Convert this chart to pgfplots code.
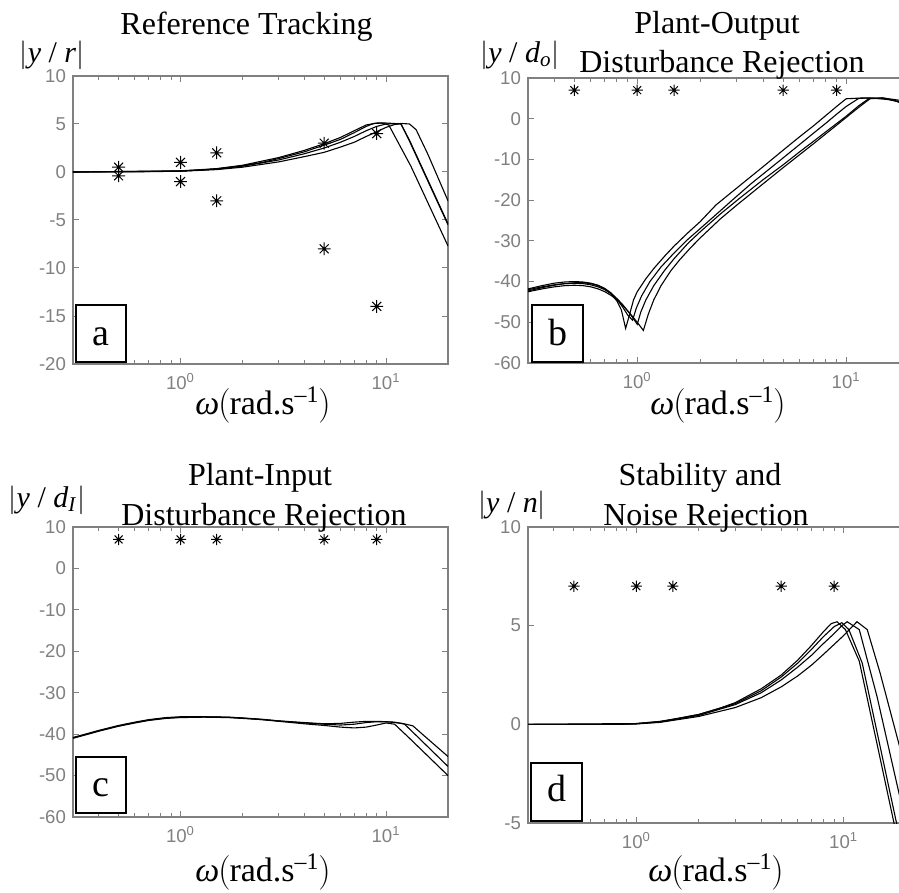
\documentclass[border=0pt]{standalone}
\usepackage{pgfplots}
\pgfplotsset{compat=1.18}
\usepackage{fontspec}
\setmainfont{Liberation Serif}
\newfontfamily\tickfont{Liberation Sans}
\definecolor{axgray}{RGB}{128,128,128}

\pgfdeclareplotmark{mstar}{%
 \pgfpathmoveto{\pgfqpoint{0pt}{\pgfplotmarksize}}\pgfpathlineto{\pgfqpoint{0pt}{-\pgfplotmarksize}}%
 \pgfpathmoveto{\pgfqpoint{\pgfplotmarksize}{0pt}}\pgfpathlineto{\pgfqpoint{-\pgfplotmarksize}{0pt}}%
 \pgfpathmoveto{\pgfqpoint{0.7\pgfplotmarksize}{0.7\pgfplotmarksize}}\pgfpathlineto{\pgfqpoint{-0.7\pgfplotmarksize}{-0.7\pgfplotmarksize}}%
 \pgfpathmoveto{\pgfqpoint{0.7\pgfplotmarksize}{-0.7\pgfplotmarksize}}\pgfpathlineto{\pgfqpoint{-0.7\pgfplotmarksize}{0.7\pgfplotmarksize}}%
 \pgfusepathqstroke}

\tikzset{
 mycurve/.style={black, line width=0.55pt, mark=none},
 mystars/.style={mark=mstar, mark size=2.8pt, black, line width=0.5pt},
}
\newcommand{\xlab}{\textit{ω}\kern-0.5pt$\Bigl($\kern-0.5pt rad.s\textsuperscript{–1}\kern-0.5pt$\Bigr)$}
\newcommand{\ylab}[1]{$\left|\mbox{#1}\right|$}

\begin{document}
\begin{tikzpicture}
% ---------------- panel a ----------------
\begin{semilogxaxis}[scale only axis, xmin=0.3, xmax=20,
  axis line style={axgray, line width=0.6pt},
  tick style={axgray, line width=0.5pt},
  tick align=inside, major tick length=3pt, minor tick length=2pt,
  xtick={1,10}, xticklabels={10\textsuperscript{0},10\textsuperscript{1}},
  minor xtick={0.4,0.5,0.6,0.7,0.8,0.9,2,3,4,5,6,7,8,9,20},
  ticklabel style={font=\tickfont\fontsize{9.3}{11}\selectfont, text=axgray},
  xticklabel style={yshift=-1pt},
  /pgf/number format/assume math mode=true,
  at={(36.5pt,-182pt)}, anchor=south west,
  width=187.5pt, height=144pt, ymin=-20, ymax=10, ytick={-20,-15,...,10}]
\addplot[mycurve] coordinates {(0.3,0)(0.6,0.02)(0.8,0.05)(1,0.1)(1.3,0.22)(1.6,0.4)(2,0.65)(2.5,1.0)(3,1.4)(4,2.1)(5,2.8)(6,3.4)(7,4.1)(8,4.75)(8.7,5.05)(9.5,5.1)(10.3,4.9)(13.2,0.6)(20,-7.7)};
\addplot[mycurve] coordinates {(0.3,0)(1,0.1)(1.5,0.3)(2,0.6)(3,1.25)(4,1.9)(5,2.5)(6,3.1)(7,3.7)(8,4.3)(9,4.75)(10,5.0)(11.8,5.05)(13,3.2)(20,-5.5)};
\addplot[mycurve] coordinates {(0.3,0)(1,0.08)(1.5,0.25)(2,0.5)(3,1.05)(4,1.6)(5,2.05)(6,2.6)(7,3.1)(8,3.7)(9,4.2)(10,4.65)(11,4.95)(12,5.05)(13,5.0)(14,4.4)(16,1.8)(20,-3.0)};
\addplot[mycurve] coordinates {(0.3,0)(1,0.12)(1.5,0.35)(2,0.7)(3,1.5)(4,2.25)(5,2.95)(6,3.6)(7,4.3)(8,4.9)(9,5.1)(10,5.1)(11,5.05)(11.8,5.0)(13,3.3)(20,-5.4)};
\addplot[only marks, mystars, mark size=3.2pt] coordinates {(0.5,0.5)(0.5,-0.4)(1,1)(1,-1)(1.5,2)(1.5,-3)(5,3)(5,-8)(9,4)(9,-14)};
\end{semilogxaxis}
% ---------------- panel b ----------------
\begin{semilogxaxis}[scale only axis, xmin=0.3, xmax=20,
  axis line style={axgray, line width=0.6pt},
  tick style={axgray, line width=0.5pt},
  tick align=inside, major tick length=3pt, minor tick length=2pt,
  xtick={1,10}, xticklabels={10\textsuperscript{0},10\textsuperscript{1}},
  minor xtick={0.4,0.5,0.6,0.7,0.8,0.9,2,3,4,5,6,7,8,9,20},
  ticklabel style={font=\tickfont\fontsize{9.3}{11}\selectfont, text=axgray},
  xticklabel style={yshift=-1pt},
  /pgf/number format/assume math mode=true,
  at={(264pt,-181.5pt)}, anchor=south west,
  width=190.5pt, height=142.5pt, ymin=-60, ymax=10, ytick={-60,-50,...,10}]
\addplot[mycurve] coordinates {(0.3,-42.3)(0.35,-41.5)(0.4,-40.9)(0.45,-40.5)(0.5,-40.3)(0.55,-40.3)(0.6,-40.5)(0.65,-41.0)(0.7,-41.8)(0.75,-43)(0.8,-44.8)(0.84,-47)(0.88,-51.5)(0.92,-48)(0.96,-44.5)(1.0,-42.5)(1.1,-39.3)(1.2,-36.8)(1.35,-33.8)(1.5,-31.3)(1.75,-28)(2,-25.3)(2.38,-21.2)(3,-17)(4,-11.8)(5,-7.7)(6,-4.4)(7,-1.7)(8,0.8)(9,3.0)(10,4.9)(12,5.1)(15,5.0)(18,4.2)(20,3.8)};
\addplot[mycurve] coordinates {(0.3,-41.8)(0.35,-41.0)(0.4,-40.4)(0.45,-40.1)(0.5,-40.0)(0.55,-40.1)(0.6,-40.4)(0.65,-40.9)(0.7,-41.7)(0.75,-42.8)(0.8,-44.3)(0.85,-46.2)(0.9,-48.2)(0.95,-49.5)(0.99,-46.5)(1.05,-43.5)(1.15,-40)(1.3,-36.4)(1.5,-33)(1.75,-29.6)(2,-27)(2.5,-22.6)(2.85,-20.0)(3.5,-16)(4,-13.6)(5,-9.6)(6,-6.3)(7,-3.5)(8,-1.1)(9,1.1)(10,3.0)(11.5,5.0)(13,5.1)(16,4.7)(20,3.6)};
\addplot[mycurve] coordinates {(0.3,-42.0)(0.35,-41.3)(0.4,-40.8)(0.45,-40.5)(0.5,-40.4)(0.55,-40.5)(0.6,-40.8)(0.65,-41.3)(0.7,-42.0)(0.75,-43.0)(0.8,-44.2)(0.85,-45.6)(0.9,-47.2)(0.95,-48.8)(1.0,-50.5)(1.04,-47.5)(1.1,-44.5)(1.2,-41)(1.35,-37.3)(1.5,-34.4)(1.75,-30.6)(2,-27.8)(2.5,-23.4)(3.08,-19.6)(4,-15)(5,-11.3)(6,-8.1)(7,-5.5)(8,-3.2)(9,-1.2)(10,0.6)(11.5,3.2)(12.9,5.0)(15,5.1)(17,4.5)(20,3.0)};
\addplot[mycurve] coordinates {(0.3,-42.5)(0.35,-41.8)(0.4,-41.3)(0.45,-41.0)(0.5,-40.9)(0.55,-41.0)(0.6,-41.3)(0.65,-41.8)(0.7,-42.5)(0.75,-43.4)(0.8,-44.5)(0.85,-45.8)(0.9,-47.2)(0.95,-48.6)(1.0,-50.0)(1.07,-52.0)(1.13,-48)(1.2,-44.5)(1.3,-41)(1.45,-37.3)(1.6,-34.6)(1.8,-31.7)(2,-29.3)(2.5,-24.6)(3,-21.2)(4,-16)(5,-12)(6,-8.8)(7,-6.1)(8,-3.7)(9,-1.6)(10,0.3)(11.5,2.8)(13,4.9)(15,5.1)(20,4.2)};
\addplot[only marks, mystars] coordinates {(0.5,7)(1,7)(1.5,7)(5,7)(9,7)};
\end{semilogxaxis}
% ---------------- panel c ----------------
\begin{semilogxaxis}[scale only axis, xmin=0.3, xmax=20,
  axis line style={axgray, line width=0.6pt},
  tick style={axgray, line width=0.5pt},
  tick align=inside, major tick length=3pt, minor tick length=2pt,
  xtick={1,10}, xticklabels={10\textsuperscript{0},10\textsuperscript{1}},
  minor xtick={0.4,0.5,0.6,0.7,0.8,0.9,2,3,4,5,6,7,8,9,20},
  ticklabel style={font=\tickfont\fontsize{9.3}{11}\selectfont, text=axgray},
  xticklabel style={yshift=-1pt},
  /pgf/number format/assume math mode=true,
  at={(36.5pt,-408.5pt)}, anchor=south west,
  width=187.5pt, height=145pt, ymin=-60, ymax=10, ytick={-60,-50,...,10}]
\addplot[mycurve] coordinates {(0.3,-40.9)(0.35,-40.0)(0.4,-39.2)(0.5,-38.0)(0.6,-37.2)(0.7,-36.6)(0.85,-36.1)(1,-35.9)(1.3,-35.8)(1.7,-35.9)(2,-36.1)(2.5,-36.5)(3,-36.9)(4,-37.5)(5,-37.9)(6,-38.3)(7,-38.5)(8,-38.3)(9,-37.8)(10,-37.3)(11,-37.6)(13,-41.0)(20,-50.0)};
\addplot[mycurve] coordinates {(0.3,-41.0)(0.35,-40.1)(0.4,-39.3)(0.5,-38.1)(0.6,-37.3)(0.7,-36.7)(0.85,-36.2)(1,-36.0)(1.3,-35.9)(1.7,-36.0)(2,-36.2)(2.5,-36.5)(3,-36.8)(4,-37.3)(5,-37.6)(6,-37.8)(7,-37.6)(8,-37.2)(9,-37.0)(10,-37.0)(11,-37.1)(12.3,-37.6)(14,-40.3)(20,-47.8)};
\addplot[mycurve] coordinates {(0.3,-40.8)(0.35,-39.9)(0.4,-39.1)(0.5,-37.9)(0.6,-37.1)(0.7,-36.5)(0.85,-36.0)(1,-35.8)(1.3,-35.8)(1.7,-35.9)(2,-36.1)(2.5,-36.4)(3,-36.8)(4,-37.2)(5,-37.5)(6,-37.4)(7,-37.1)(8,-36.9)(9,-36.9)(10,-37.0)(11,-37.2)(12,-37.4)(13.5,-38.0)(15,-40.0)(20,-45.4)};
\addplot[only marks, mystars] coordinates {(0.5,7)(1,7)(1.5,7)(5,7)(9,7)};
\end{semilogxaxis}
% ---------------- panel d ----------------
\begin{semilogxaxis}[scale only axis, xmin=0.3, xmax=20,
  axis line style={axgray, line width=0.6pt},
  tick style={axgray, line width=0.5pt},
  tick align=inside, major tick length=3pt, minor tick length=2pt,
  xtick={1,10}, xticklabels={10\textsuperscript{0},10\textsuperscript{1}},
  minor xtick={0.4,0.5,0.6,0.7,0.8,0.9,2,3,4,5,6,7,8,9,20},
  ticklabel style={font=\tickfont\fontsize{9.3}{11}\selectfont, text=axgray},
  xticklabel style={yshift=-1pt},
  /pgf/number format/assume math mode=true,
  at={(264pt,-411.5pt)}, anchor=south west,
  width=189pt, height=148pt, ymin=-5, ymax=10, ytick={-5,0,5,10}]
\addplot[mycurve] coordinates {(0.3,0)(0.7,0)(0.9,0.02)(1,0.04)(1.3,0.15)(1.6,0.3)(2,0.5)(2.5,0.8)(3,1.1)(4,1.8)(5,2.5)(6,3.25)(7,4.0)(8,4.7)(8.7,5.1)(9.3,5.2)(10.2,4.8)(11.9,3.2)(17.5,-5.0)(20,-7.8)};
\addplot[mycurve] coordinates {(0.3,0)(0.8,0)(1,0.03)(1.3,0.12)(2,0.45)(3,1.0)(4,1.6)(5,2.25)(6,2.9)(7,3.5)(8,4.1)(9,4.6)(9.8,5.0)(10.4,5.2)(11.9,4.8)(14.5,1.4)(18.6,-3.6)(20,-5.0)};
\addplot[mycurve] coordinates {(0.3,0)(0.8,0)(1,0.02)(1.3,0.1)(2,0.4)(3,0.85)(4,1.35)(5,1.9)(6,2.45)(7,3.0)(8,3.55)(9,4.05)(10,4.5)(11,4.95)(11.6,5.2)(13,4.8)(15,2.6)(18.6,-1.1)(20,-2.3)};
\addplot[mycurve] coordinates {(0.3,0)(1,0.04)(1.3,0.14)(2,0.5)(3,1.05)(4,1.7)(5,2.4)(6,3.1)(7,3.8)(8,4.45)(9,4.95)(9.8,5.15)(10.6,4.8)(12.3,3.1)(18,-5.0)(20,-6.9)};
\addplot[only marks, mystars] coordinates {(0.5,7)(1,7)(1.5,7)(5,7)(9,7)};
\end{semilogxaxis}
% ---------------- titles ----------------
\begin{scope}[every node/.style={font=\fontsize{16}{19}\selectfont, inner sep=0pt}]
\node[anchor=base] at (123.25pt,-17.2pt) {Reference Tracking};
\node[anchor=base] at (358.5pt,-17pt) {Plant-Output};
\node[anchor=base] at (361pt,-36.3pt) {Disturbance Rejection};
\node[anchor=base] at (130pt,-242.5pt) {Plant-Input};
\node[anchor=base] at (132pt,-262.5pt) {Disturbance Rejection};
\node[anchor=base] at (350pt,-242.8pt) {Stability and};
\node[anchor=base] at (353pt,-262.5pt) {Noise Rejection};
\end{scope}
% ---------------- y labels ----------------
\begin{scope}[every node/.style={font=\fontsize{15}{18}\selectfont, inner sep=0pt}]
\node at (26pt,-27.5pt) {\ylab{\textit{y} / \textit{r}}};
\node at (260pt,-27.5pt) {\ylab{\textit{y} / \textit{d}\textsubscript{\textit{o}}}};
\node at (23.5pt,-250pt) {\ylab{\textit{y} / \textit{d}\textsubscript{\textit{I}}}};
\node at (256pt,-252.5pt) {\ylab{\textit{y} / \textit{n}}};
\end{scope}
% ---------------- x labels ----------------
\begin{scope}[every node/.style={font=\fontsize{17}{20}\selectfont, inner sep=0pt}]
\node at (131.5pt,-202.5pt) {\xlab};
\node at (359pt,-202.5pt) {\xlab};
\node at (131.5pt,-436pt) {\xlab};
\node at (358pt,-436pt) {\xlab};
\end{scope}
% ---------------- panel letters ----------------
\begin{scope}[font=\fontsize{19}{22}\selectfont]
\draw[line width=1.1pt, fill=white] (38pt,-152.5pt) rectangle (62.85pt,-181.15pt);
\node[anchor=base] at (50.4pt,-172.5pt) {a};
\draw[line width=1.1pt, fill=white] (265.85pt,-152.5pt) rectangle (291.65pt,-181pt);
\node[anchor=base] at (278.75pt,-172.5pt) {b};
\draw[line width=1.1pt, fill=white] (38pt,-378.35pt) rectangle (62.85pt,-406.65pt);
\node[anchor=base] at (50.4pt,-398.3pt) {c};
\draw[line width=1.1pt, fill=white] (265.35pt,-381.35pt) rectangle (291.15pt,-410.5pt);
\node[anchor=base] at (278.25pt,-400.8pt) {d};
\end{scope}
\pgfresetboundingbox
\useasboundingbox (0pt,0pt) rectangle (449.5pt,-446.5pt);
\end{tikzpicture}
\end{document}
